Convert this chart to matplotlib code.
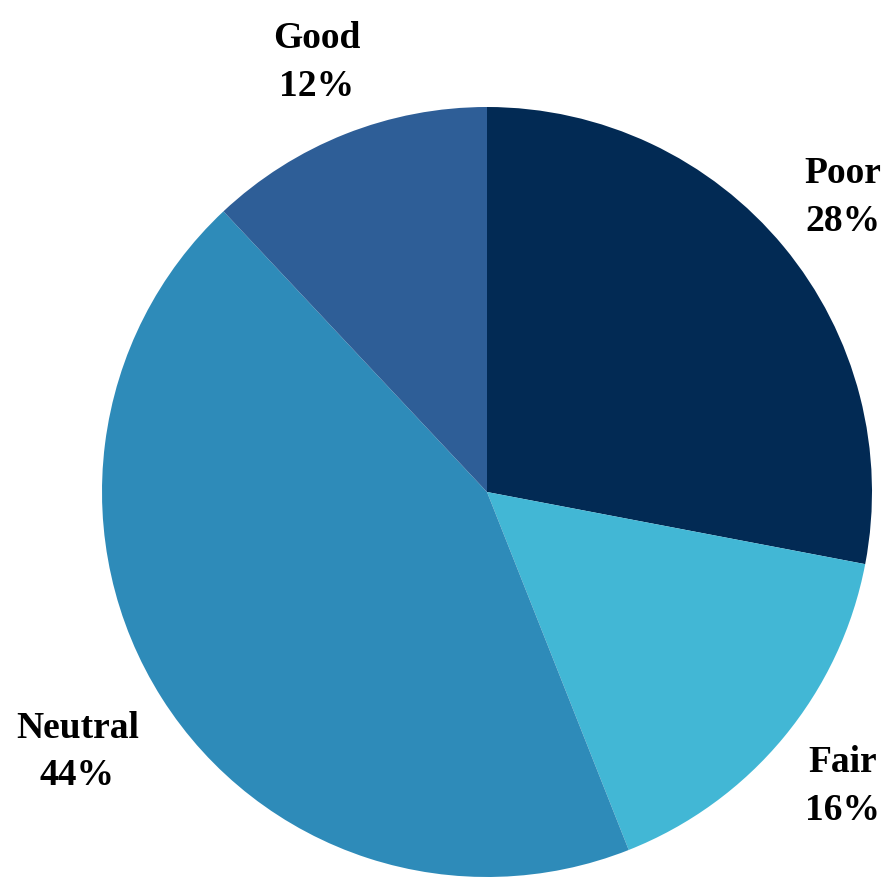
import matplotlib.pyplot as plt

categories = ['Poor', 'Fair', 'Neutral', 'Good']
shares = [28, 16, 44, 12]
colors = ['#022a54', '#42b7d5', '#2e8bb9', '#2e5e97']

fig = plt.figure(figsize=(8.87, 8.77), dpi=100)
ax = fig.add_axes([102/887, 0, 770/887, 770/877])

labels = [f'{c}\n{s}%' for c, s in zip(categories, shares)]
wedges, texts = ax.pie(shares, labels=labels, colors=colors, startangle=90,
                       counterclock=False, labeldistance=1.2,
                       wedgeprops=dict(linewidth=0),
                       textprops=dict(fontsize=27, fontweight='bold',
                                      family='Liberation Serif', linespacing=1.45))
for t in texts:
    t.set_ha('center')
    t.set_va('center')
# neutral label sits a bit further out
texts[2].set_position((texts[2].get_position()[0] * 1.05,
                       texts[2].get_position()[1] * 1.05))
ax.set_xlim(-1, 1)
ax.set_ylim(-1, 1)
ax.set_aspect('equal')

fig.savefig('out.png')
